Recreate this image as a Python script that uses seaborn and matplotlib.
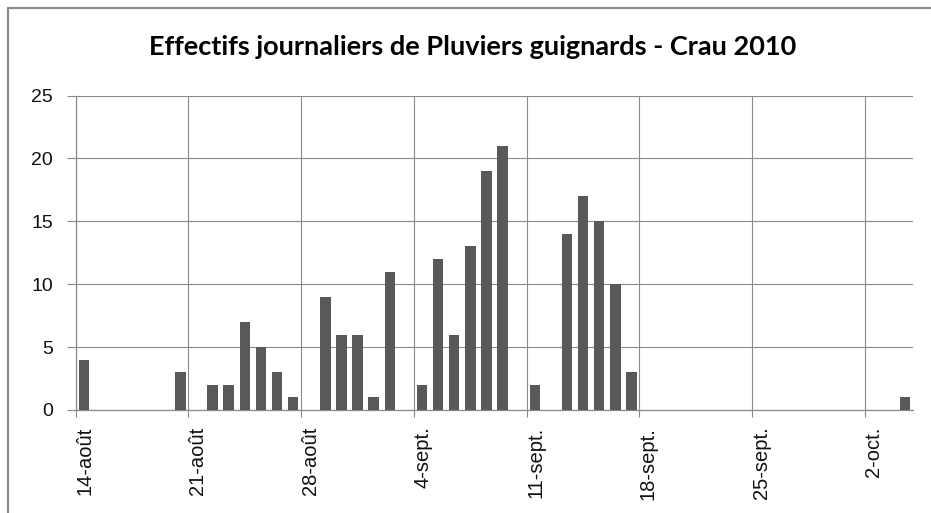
import datetime as dt
import matplotlib
matplotlib.use("Agg")
import matplotlib.pyplot as plt
import matplotlib.transforms as mtransforms
from matplotlib.lines import Line2D
import pandas as pd
import seaborn as sns

# ---- data ----
dates = ["2010-08-14", "2010-08-20", "2010-08-22", "2010-08-23", "2010-08-24",
         "2010-08-25", "2010-08-26", "2010-08-27", "2010-08-29", "2010-08-30",
         "2010-08-31", "2010-09-01", "2010-09-02", "2010-09-04", "2010-09-05",
         "2010-09-06", "2010-09-07", "2010-09-08", "2010-09-09", "2010-09-11",
         "2010-09-13", "2010-09-14", "2010-09-15", "2010-09-16", "2010-09-17",
         "2010-10-04"]
counts = [4, 3, 2, 2, 7, 5, 3, 1, 9, 6, 6, 1, 11, 2, 12, 6, 13, 19, 21, 2,
          14, 17, 15, 10, 3, 1]
tick_dates = ["2010-08-14", "2010-08-21", "2010-08-28", "2010-09-04",
              "2010-09-11", "2010-09-18", "2010-09-25", "2010-10-02"]
tick_labels = ["14-août", "21-août", "28-août", "4-sept.", "11-sept.",
               "18-sept.", "25-sept.", "2-oct."]
y_ticks = [0, 5, 10, 15, 20, 25]
title = "Effectifs journaliers de Pluviers guignards - Crau 2010"
start_date = "2010-08-14"
end_date = "2010-10-05"

# ---- build frame ----
start = pd.Timestamp(start_date)
df = pd.DataFrame({"date": pd.to_datetime(dates), "n": counts})
df["day"] = (df["date"] - start).dt.days + 0.5  # centre of each day slot

sns.set_theme(style="white")
plt.rcParams["font.family"] = ["Liberation Sans", "DejaVu Sans"]

W, H = 931, 513
fig = plt.figure(figsize=(W / 100, H / 100), dpi=100)
ax = fig.add_axes([75.7 / W, 1 - 410 / H, (913.3 - 75.7) / W, (410 - 95.5) / H])

grid_c = "#8a8a8a"
sns.barplot(data=df, x="day", y="n", native_scale=True, color="#595959",
            saturation=1, width=0.65, ax=ax, zorder=3, linewidth=0)

ax.set_ylim(0, 25)
ax.set_xlim(0, (pd.Timestamp(end_date) - start).days)

xt = [(pd.Timestamp(d) - start).days for d in tick_dates]
ax.set_xticks(xt)
ax.set_xticklabels(tick_labels, rotation=90, fontsize=14.5, color="#111111",
                   va="top", ha="center")
ax.set_yticks(y_ticks)
ax.set_yticklabels([str(v) for v in y_ticks], fontsize=14, color="#111111")

ax.set_xlabel("")
ax.set_ylabel("")
ax.grid(True, color=grid_c, linewidth=0.8, zorder=0)
ax.set_axisbelow(True)
for s in ["top", "right"]:
    ax.spines[s].set_visible(False)
for s in ["left", "bottom"]:
    ax.spines[s].set_color(grid_c)
    ax.spines[s].set_linewidth(0.9)
ax.tick_params(axis="y", length=6.5, width=0.8, color=grid_c, pad=10,
               left=True)
ax.tick_params(axis="x", length=5, width=0.8, color=grid_c, pad=7,
               bottom=True)

# shift rotated x labels to the right of their ticks (as in the reference)
offset = mtransforms.ScaledTranslation(9 / 100, 0, fig.dpi_scale_trans)
for lab in ax.get_xticklabels():
    lab.set_transform(lab.get_transform() + offset)

fig.text(472.5 / W, 1 - 47 / H, title, ha="center", va="center",
         fontsize=19.5, fontweight="bold", family=["Lato", "DejaVu Sans"],
         color="#000000")

# chart-area border
bc = "#8c8c8c"
fig.add_artist(Line2D([8 / W, 8 / W], [0, 1 - 8 / H], transform=fig.transFigure,
                      color=bc, linewidth=1.6))
fig.add_artist(Line2D([8 / W, 1], [1 - 8 / H, 1 - 8 / H], transform=fig.transFigure,
                      color=bc, linewidth=1.6))

fig.savefig("out.png", dpi=100, facecolor="white")
